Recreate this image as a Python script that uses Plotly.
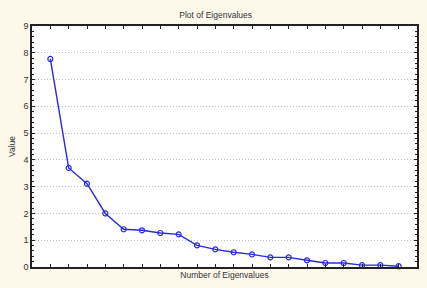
import plotly.graph_objects as go

components = list(range(1, 21))
eigenvalues = [7.77, 3.70, 3.11, 2.00, 1.41, 1.37, 1.27, 1.22, 0.81, 0.66,
               0.55, 0.47, 0.36, 0.36, 0.25, 0.15, 0.15, 0.07, 0.07, 0.03]
y_ticks = list(range(0, 10))

fig = go.Figure()
fig.add_trace(go.Scatter(
    x=components, y=eigenvalues, mode="lines+markers",
    line=dict(color="#2a2ae0", width=1.4),
    marker=dict(symbol="circle-open", size=5, color="#2a2ae0", line=dict(width=1.2)),
    showlegend=False, cliponaxis=False,
))

font = "Liberation Sans, Arial, sans-serif"
fig.update_layout(
    width=427, height=288,
    margin=dict(l=32, r=8, t=26, b=21),
    paper_bgcolor="#fcf8ea", plot_bgcolor="#ffffff",
    font=dict(family=font, size=9, color="#333333"),
    title=dict(text="Plot of Eigenvalues", x=0.505, xref="container", xanchor="center",
               y=1 - 15 / 288, yref="container", yanchor="middle",
               font=dict(size=8.5, color="#333333")),
    xaxis=dict(range=[0, 21], tickvals=components, showticklabels=False,
               ticks="inside", ticklen=3, tickcolor="#222222", tickwidth=1,
               showline=True, linecolor="#222222", linewidth=1.5, mirror="ticks",
               showgrid=False, zeroline=False,
               title=dict(text="Number of Eigenvalues", standoff=4,
                          font=dict(size=8.5, color="#333333"))),
    yaxis=dict(range=[0, 9], tickvals=y_ticks,
               ticks="inside", ticklen=3, tickcolor="#222222", tickwidth=1,
               showline=True, linecolor="#222222", linewidth=1.5, mirror="ticks",
               showgrid=True, gridcolor="#c4c4c4", griddash="1px,2px", gridwidth=1,
               zeroline=False, tickfont=dict(size=9, color="#333333"),
               minor=dict(dtick=0.2, ticks="inside", ticklen=2, tickcolor="#222222", showgrid=False),
               title=dict(text="Value", standoff=6, font=dict(size=8.5, color="#333333"))),
)
fig.write_html("out.html")
